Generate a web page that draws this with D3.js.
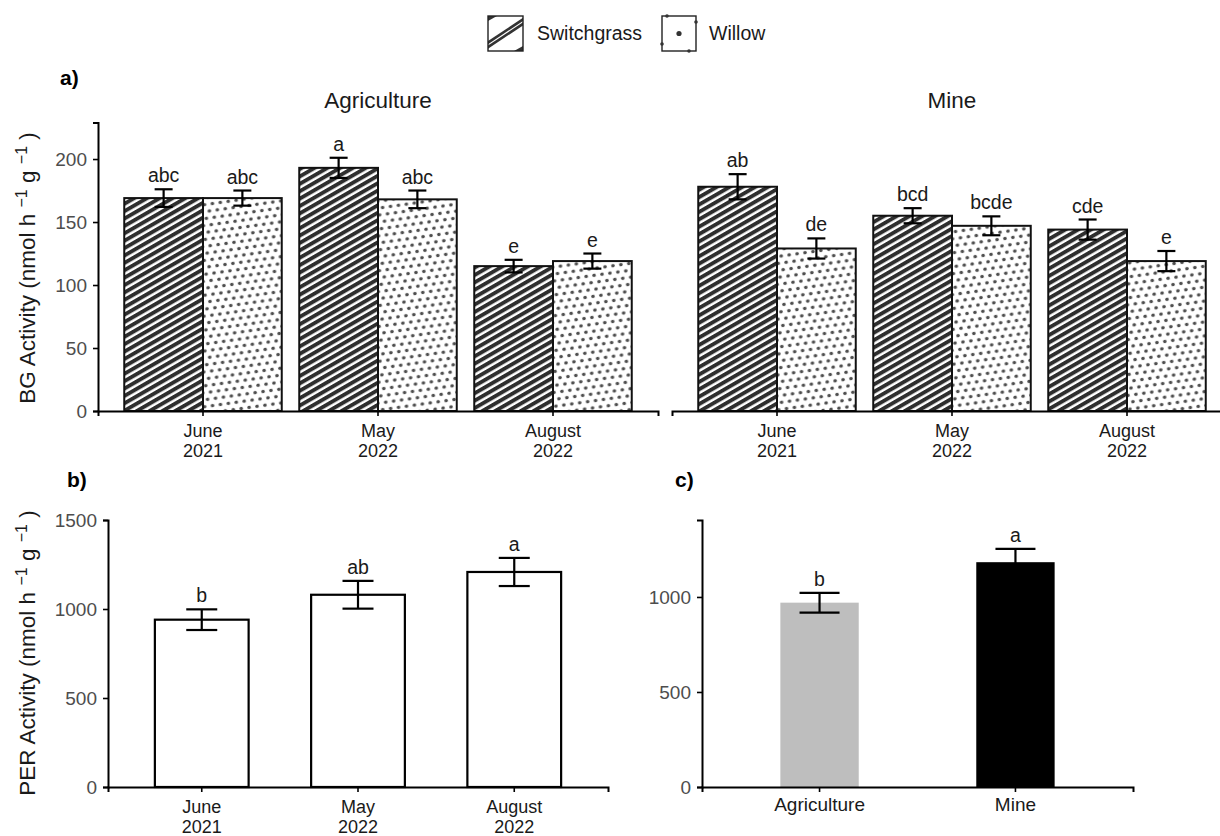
<!DOCTYPE html>
<html>
<head>
<meta charset="utf-8">
<script src="https://cdn.jsdelivr.net/npm/d3@7"></script>
<style>
  body { margin: 0; background: #fff; }
  svg { font-family: "Liberation Sans", Arial, sans-serif; }
</style>
</head>
<body>
<div class="chart-container"></div>
<script>
// categories
const months = ["June\n2021", "May\n2022", "August\n2022"];
const sites = ["Agriculture", "Mine"];
const crops = ["Switchgrass", "Willow"];

// a) BG activity, by site / month / crop
const bgAgSwitch = [169, 193, 115];
const bgAgSwitchSe = [7, 8, 5];
const bgAgSwitchLetters = ["abc", "a", "e"];
const bgAgWillow = [169, 168, 119];
const bgAgWillowSe = [6, 7, 6];
const bgAgWillowLetters = ["abc", "abc", "e"];
const bgMineSwitch = [178, 155, 144];
const bgMineSwitchSe = [10, 6, 8];
const bgMineSwitchLetters = ["ab", "bcd", "cde"];
const bgMineWillow = [129, 147, 119];
const bgMineWillowSe = [8, 7.5, 8];
const bgMineWillowLetters = ["de", "bcde", "e"];

// b) PER activity by month
const perMonth = [940, 1080, 1208];
const perMonthSe = [58, 78, 79];
const perMonthLetters = ["b", "ab", "a"];

// c) PER activity by site
const perSite = [970, 1183];
const perSiteSe = [52, 70];
const perSiteLetters = ["b", "a"];

// tick values
const bgTicks = [0, 50, 100, 150, 200];
const perMonthTicks = [0, 500, 1000, 1500];
const perSiteTicks = [0, 500, 1000];

const width = 1220;
const height = 836;

const svg = d3
  .select(".chart-container")
  .append("svg")
  .attr("width", width)
  .attr("height", height);

// fill patterns
const defs = svg.append("defs");
const stripe = defs
  .append("pattern")
  .attr("id", "stripes")
  .attr("patternUnits", "userSpaceOnUse")
  .attr("width", 10)
  .attr("height", 6.4)
  .attr("patternTransform", "rotate(-30)");
stripe.append("rect").attr("width", 10).attr("height", 6.4).attr("fill", "#fff");
stripe.append("rect").attr("y", 0).attr("width", 10).attr("height", 3.9).attr("fill", "#2e2e2e");

const dots = defs
  .append("pattern")
  .attr("id", "dots")
  .attr("patternUnits", "userSpaceOnUse")
  .attr("width", 8)
  .attr("height", 13.8)
  .attr("patternTransform", "rotate(-8)");
dots.append("rect").attr("width", 8).attr("height", 13.8).attr("fill", "#fff");
dots.append("circle").attr("cx", 2).attr("cy", 3.45).attr("r", 1.8).attr("fill", "#4d4d4d");
dots.append("circle").attr("cx", 6).attr("cy", 10.35).attr("r", 1.8).attr("fill", "#4d4d4d");

const cropFill = { Switchgrass: "url(#stripes)", Willow: "url(#dots)" };

function styleAxis(g) {
  g.select(".domain").attr("stroke", "#000").attr("stroke-width", 2);
  g.selectAll(".tick line").attr("stroke", "#000").attr("stroke-width", 1.6);
  g.selectAll(".tick text")
    .attr("fill", "#4d4d4d")
    .style("font-size", "19px")
    .style("font-family", "Liberation Sans, Arial, sans-serif");
}

function monthAxis(g) {
  g.selectAll(".tick text").remove();
  g.selectAll(".tick")
    .append("text")
    .attr("fill", "#1a1a1a")
    .attr("text-anchor", "middle")
    .style("font-size", "18px")
    .selectAll("tspan")
    .data((d) => d.split("\n"))
    .join("tspan")
    .attr("x", 0)
    .attr("y", (d, i) => 26 + i * 20)
    .text((d) => d);
}

function errorBars(g, rows, x, y, capW) {
  const eb = g.selectAll(null).data(rows).enter().append("g");
  eb.append("line")
    .attr("x1", (d) => x(d))
    .attr("x2", (d) => x(d))
    .attr("y1", (d) => y(d.value + d.se))
    .attr("y2", (d) => y(d.value - d.se));
  eb.append("line")
    .attr("x1", (d) => x(d) - capW / 2)
    .attr("x2", (d) => x(d) + capW / 2)
    .attr("y1", (d) => y(d.value + d.se))
    .attr("y2", (d) => y(d.value + d.se));
  eb.append("line")
    .attr("x1", (d) => x(d) - capW / 2)
    .attr("x2", (d) => x(d) + capW / 2)
    .attr("y1", (d) => y(d.value - d.se))
    .attr("y2", (d) => y(d.value - d.se));
  eb.selectAll("line").attr("stroke", "#000").attr("stroke-width", 2.2);

  g.selectAll(null)
    .data(rows)
    .enter()
    .append("text")
    .attr("x", (d) => x(d))
    .attr("y", (d) => y(d.value + d.se) - 7)
    .attr("text-anchor", "middle")
    .style("font-size", "19.5px")
    .attr("fill", "#1a1a1a")
    .text((d) => d.letter);
}

// ---------- a) BG activity ----------
const yBG = d3.scaleLinear().domain([0, 229]).range([411, 122.5]);
const bgData = {
  Agriculture: { Switchgrass: [bgAgSwitch, bgAgSwitchSe, bgAgSwitchLetters], Willow: [bgAgWillow, bgAgWillowSe, bgAgWillowLetters] },
  Mine: { Switchgrass: [bgMineSwitch, bgMineSwitchSe, bgMineSwitchLetters], Willow: [bgMineWillow, bgMineWillowSe, bgMineWillowLetters] }
};
const facetRanges = { Agriculture: [98, 658], Mine: [672, 1232] };

sites.forEach((site) => {
  const x = d3.scaleBand().domain(months).range(facetRanges[site]).paddingInner(0).paddingOuter(0.1);
  const xIn = d3.scaleBand().domain(crops).range([0, x.bandwidth() * 0.9]);
  const off = x.bandwidth() * 0.05;
  const rows = [];
  crops.forEach((crop) => {
    const [vals, se, letters] = bgData[site][crop];
    months.forEach((m, i) => rows.push({ month: m, crop: crop, value: vals[i], se: se[i], letter: letters[i] }));
  });
  const g = svg.append("g");

  g.selectAll("rect")
    .data(rows)
    .enter()
    .append("rect")
    .attr("x", (d) => x(d.month) + off + xIn(d.crop))
    .attr("y", (d) => yBG(d.value))
    .attr("width", xIn.bandwidth())
    .attr("height", (d) => yBG(0) - yBG(d.value))
    .attr("fill", (d) => cropFill[d.crop])
    .attr("stroke", "#111")
    .attr("stroke-width", 2);

  errorBars(g, rows, (d) => x(d.month) + off + xIn(d.crop) + xIn.bandwidth() / 2, yBG, 18);

  g.append("g")
    .attr("transform", `translate(0,${yBG(0)})`)
    .call(d3.axisBottom(x).tickSizeOuter(0).tickSize(5))
    .call(styleAxis)
    .call(monthAxis);

  g.append("text")
    .attr("x", d3.mean(facetRanges[site]))
    .attr("y", 108)
    .attr("text-anchor", "middle")
    .style("font-size", "22.5px")
    .attr("fill", "#1a1a1a")
    .text(site);
});

svg.append("g")
  .attr("transform", "translate(98,0)")
  .call(d3.axisLeft(yBG).tickValues(bgTicks).tickFormat(d3.format("d")).tickSizeOuter(0).tickSize(5).tickPadding(6))
  .call(styleAxis);

// ---------- b) PER by month ----------
const xB = d3.scaleBand().domain(months).range([108, 608]).paddingInner(0).paddingOuter(0.1);
const yB = d3.scaleLinear().domain([0, 1500]).range([787, 520]);
const rowsB = months.map((m, i) => ({ month: m, value: perMonth[i], se: perMonthSe[i], letter: perMonthLetters[i] }));
const gB = svg.append("g");
gB.selectAll("rect")
  .data(rowsB)
  .enter()
  .append("rect")
  .attr("x", (d) => xB(d.month) + xB.bandwidth() * 0.2)
  .attr("y", (d) => yB(d.value))
  .attr("width", xB.bandwidth() * 0.6)
  .attr("height", (d) => yB(0) - yB(d.value))
  .attr("fill", "#fff")
  .attr("stroke", "#000")
  .attr("stroke-width", 2.2);
errorBars(gB, rowsB, (d) => xB(d.month) + xB.bandwidth() / 2, yB, 31);
gB.append("g")
  .attr("transform", `translate(0,${yB(0)})`)
  .call(d3.axisBottom(xB).tickSizeOuter(0).tickSize(5))
  .call(styleAxis)
  .call(monthAxis);
gB.append("g")
  .attr("transform", "translate(108,0)")
  .call(d3.axisLeft(yB).tickValues(perMonthTicks).tickFormat(d3.format("d")).tickSizeOuter(0).tickSize(5).tickPadding(6))
  .call(styleAxis);

// ---------- c) PER by site ----------
const xC = d3.scaleBand().domain(sites).range([702, 1133]).paddingInner(0).paddingOuter(0.1);
const yC = d3.scaleLinear().domain([0, 1405]).range([787, 520]);
const siteFill = { Agriculture: "#bebebe", Mine: "#000" };
const rowsC = sites.map((s, i) => ({ site: s, value: perSite[i], se: perSiteSe[i], letter: perSiteLetters[i] }));
const gC = svg.append("g");
gC.selectAll("rect")
  .data(rowsC)
  .enter()
  .append("rect")
  .attr("x", (d) => xC(d.site) + xC.bandwidth() * 0.3)
  .attr("y", (d) => yC(d.value))
  .attr("width", xC.bandwidth() * 0.4)
  .attr("height", (d) => yC(0) - yC(d.value))
  .attr("fill", (d) => siteFill[d.site]);
errorBars(gC, rowsC, (d) => xC(d.site) + xC.bandwidth() / 2, yC, 40);
gC.append("g")
  .attr("transform", `translate(0,${yC(0)})`)
  .call(d3.axisBottom(xC).tickSizeOuter(0).tickSize(5).tickPadding(6))
  .call(styleAxis)
  .call((g) => g.selectAll(".tick text").attr("fill", "#1a1a1a").style("font-size", "19px"));
gC.append("g")
  .attr("transform", "translate(702,0)")
  .call(d3.axisLeft(yC).tickValues(perSiteTicks).tickFormat(d3.format("d")).tickSizeOuter(0).tickSize(5).tickPadding(6))
  .call(styleAxis);

// ---------- axis titles, panel tags ----------
function yTitle(cx, cy, name) {
  const t = svg.append("text")
    .attr("transform", `translate(${cx},${cy}) rotate(-90)`)
    .attr("text-anchor", "middle")
    .style("font-size", "22.5px")
    .attr("fill", "#1a1a1a");
  t.append("tspan").text(name + " (nmol h ");
  t.append("tspan").attr("dy", -8).style("font-size", "16px").text("\u22121");
  t.append("tspan").attr("dy", 8).text(" g ");
  t.append("tspan").attr("dy", -8).style("font-size", "16px").text("\u22121");
  t.append("tspan").attr("dy", 8).text("  )");
}
yTitle(35, 268, "BG Activity");
yTitle(35, 653, "PER Activity");

[["a)", 60, 85], ["b)", 67, 487], ["c)", 675, 487]].forEach(([t, x, y]) => {
  svg.append("text")
    .attr("x", x)
    .attr("y", y)
    .style("font-size", "21px")
    .style("font-weight", "bold")
    .attr("fill", "#000")
    .text(t);
});

// ---------- legend ----------
const lg = svg.append("g");
defs.append("clipPath").attr("id", "keyclip")
  .append("rect").attr("x", 488).attr("y", 16).attr("width", 35).attr("height", 35);
const k1 = lg.append("g").attr("clip-path", "url(#keyclip)");
k1.append("rect").attr("x", 488).attr("y", 16).attr("width", 35).attr("height", 35).attr("fill", "#fff");
k1.append("polygon").attr("points", "488,16 497,16 488,21").attr("fill", "#333");
k1.append("polygon").attr("points", "523,51 514,51 523,46").attr("fill", "#333");
k1.append("line").attr("x1", 486).attr("y1", 44).attr("x2", 525).attr("y2", 18).attr("stroke", "#333").attr("stroke-width", 2.6);
k1.append("line").attr("x1", 486).attr("y1", 48.5).attr("x2", 525).attr("y2", 22.5).attr("stroke", "#333").attr("stroke-width", 2.6);
lg.append("rect").attr("x", 488).attr("y", 16).attr("width", 35).attr("height", 35)
  .attr("fill", "none").attr("stroke", "#222").attr("stroke-width", 1.4);
lg.append("text").attr("x", 537).attr("y", 40).style("font-size", "19.5px").attr("fill", "#1a1a1a").text(crops[0]);

lg.append("rect").attr("x", 662).attr("y", 16).attr("width", 34).attr("height", 35)
  .attr("fill", "#fff").attr("stroke", "#222").attr("stroke-width", 1.4);
lg.append("circle").attr("cx", 679).attr("cy", 33.5).attr("r", 2.6).attr("fill", "#333");
[[667, 16], [696, 22], [662, 44], [689, 51]].forEach(([cx, cy]) =>
  lg.append("circle").attr("cx", cx).attr("cy", cy).attr("r", 1.8).attr("fill", "#333"));
lg.append("text").attr("x", 709).attr("y", 40).style("font-size", "19.5px").attr("fill", "#1a1a1a").text(crops[1]);
</script>
</body>
</html>
